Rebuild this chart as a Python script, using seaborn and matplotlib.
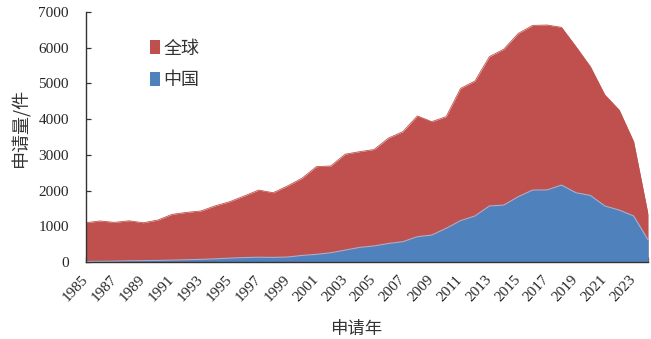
import numpy as np
import pandas as pd
import matplotlib
matplotlib.use("Agg")
import matplotlib.pyplot as plt
import seaborn as sns
from matplotlib.patches import Patch

years = list(range(1985, 2025))
global_counts = [1100, 1150, 1110, 1155, 1100, 1175, 1335, 1390, 1430, 1575,
                 1690, 1850, 2015, 1940, 2130, 2345, 2670, 2690, 3020, 3090,
                 3150, 3470, 3650, 4090, 3930, 4070, 4860, 5070, 5750, 5960,
                 6400, 6625, 6635, 6570, 6030, 5470, 4680, 4255, 3370, 1330]
china_counts = [15, 20, 25, 35, 40, 45, 55, 65, 75, 90,
                110, 125, 135, 130, 140, 185, 215, 260, 335, 410,
                450, 520, 570, 710, 755, 945, 1160, 1290, 1570, 1595,
                1830, 2015, 2020, 2155, 1940, 1865, 1570, 1455, 1290, 620]
series_names = ["全球", "中国"]
xtick_years = list(range(1985, 2024, 2))
yticks = [0, 1000, 2000, 3000, 4000, 5000, 6000, 7000]

df = pd.DataFrame({"年": years, "全球": global_counts, "中国": china_counts})

sns.set_theme(style="ticks")
plt.rcParams['font.family'] = ['Liberation Serif', 'Noto Sans CJK SC', 'DejaVu Sans']
cjk = ['Noto Sans CJK SC', 'DejaVu Sans']

red = "#C0504D"
blue = "#4F81BD"

fig = plt.figure(figsize=(6.51, 3.39), dpi=100)
ax = fig.add_axes([0.1315, 0.227, 0.864, 0.7376])

sns.lineplot(data=df, x="年", y="全球", ax=ax, color=red, linewidth=0.6)
ax.fill_between(df["年"], df["全球"], color=red, linewidth=0)
sns.lineplot(data=df, x="年", y="中国", ax=ax, color="#9DB3D6", linewidth=0.8)
ax.fill_between(df["年"], df["中国"], color=blue, linewidth=0)

ax.set_xlim(1985, 2024)
ax.set_ylim(0, 7000)
ax.set_yticks(yticks)
ax.set_yticklabels([str(v) for v in yticks], fontsize=11)
ax.set_xticks(years, minor=False)
ax.set_xticklabels([str(y) if y in xtick_years else "" for y in years],
                   rotation=47, ha='right', va='center', rotation_mode='anchor', fontsize=11)
ax.tick_params(axis='both', direction='in', length=3.5, width=0.9, color='#333333')
ax.tick_params(axis='y', pad=12)
ax.tick_params(axis='x', pad=11)
for s in ['top', 'right']:
    ax.spines[s].set_visible(False)
for s in ['left', 'bottom']:
    ax.spines[s].set_color('#333333')
    ax.spines[s].set_linewidth(1.0)

ax.set_ylabel("申请量/件", fontsize=13, family=cjk, color='#333333')
ax.set_xlabel("申请年", fontsize=12.5, family=cjk, color='#333333')
# label positions in figure pixels converted to axes coords
ax.yaxis.set_label_coords((21 - 86) / 562, (262 - 127) / 250)
ax.xaxis.set_label_coords((356 - 86) / 562, (262 - 329) / 250)
ax.xaxis.label.set_va('center')
ax.yaxis.label.set_va('center')

handles = [Patch(facecolor=red, edgecolor='none'), Patch(facecolor=blue, edgecolor='none')]
leg = ax.legend(handles, series_names, loc='upper left', bbox_to_anchor=(0.085, 0.955),
                frameon=False, handlelength=0.55, handleheight=0.8, handletextpad=0.2,
                labelspacing=0.75, prop={'family': cjk, 'size': 13})
for t in leg.get_texts():
    t.set_color('#333333')

fig.savefig("out.png", dpi=100)
